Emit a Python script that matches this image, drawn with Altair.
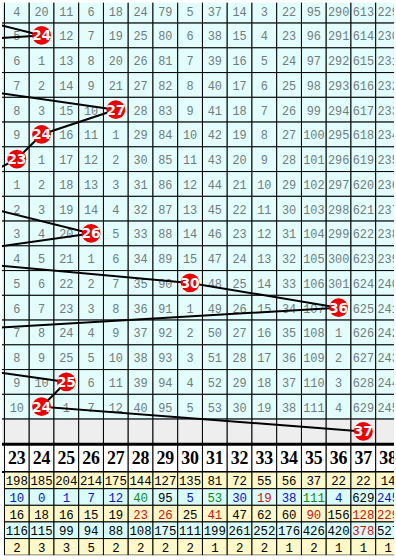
import altair as alt
import pandas as pd

# ---------------- data ----------------
columns = list(range(23, 39))
# column of the drawn ball for each row (rows 0..17, last row = next draw)
hit_cols = [20, 24, 8, 20, 27, 24, 23, 21, 22, 26, 19, 30, 36, 19, 18, 25, 24, 37]

omission = [
    [4, 20, 11, 6, 18, 24, 79, 5, 37, 14, 3, 22, 95, 290, 613, 229],
    [5, None, 12, 7, 19, 25, 80, 6, 38, 15, 4, 23, 96, 291, 614, 230],
    [6, 1, 13, 8, 20, 26, 81, 7, 39, 16, 5, 24, 97, 292, 615, 231],
    [7, 2, 14, 9, 21, 27, 82, 8, 40, 17, 6, 25, 98, 293, 616, 232],
    [8, 3, 15, 10, None, 28, 83, 9, 41, 18, 7, 26, 99, 294, 617, 233],
    [9, None, 16, 11, 1, 29, 84, 10, 42, 19, 8, 27, 100, 295, 618, 234],
    [None, 1, 17, 12, 2, 30, 85, 11, 43, 20, 9, 28, 101, 296, 619, 235],
    [1, 2, 18, 13, 3, 31, 86, 12, 44, 21, 10, 29, 102, 297, 620, 236],
    [2, 3, 19, 14, 4, 32, 87, 13, 45, 22, 11, 30, 103, 298, 621, 237],
    [3, 4, 20, None, 5, 33, 88, 14, 46, 23, 12, 31, 104, 299, 622, 238],
    [4, 5, 21, 1, 6, 34, 89, 15, 47, 24, 13, 32, 105, 300, 623, 239],
    [5, 6, 22, 2, 7, 35, 90, None, 48, 25, 14, 33, 106, 301, 624, 240],
    [6, 7, 23, 3, 8, 36, 91, 1, 49, 26, 15, 34, 107, None, 625, 241],
    [7, 8, 24, 4, 9, 37, 92, 2, 50, 27, 16, 35, 108, 1, 626, 242],
    [8, 9, 25, 5, 10, 38, 93, 3, 51, 28, 17, 36, 109, 2, 627, 243],
    [9, 10, None, 6, 11, 39, 94, 4, 52, 29, 18, 37, 110, 3, 628, 244],
    [10, None, 1, 7, 12, 40, 95, 5, 53, 30, 19, 38, 111, 4, 629, 245],
]

appear_count = [198, 185, 204, 214, 175, 144, 127, 135, 81, 72, 55, 56, 37, 22, 22, 14]
current_miss = [10, 0, 1, 7, 12, 40, 95, 5, 53, 30, 19, 38, 111, 4, 629, 245]
current_tone = ["b", "b", "b", "b", "b", "g", "k", "b", "g", "b", "r", "b", "g", "b", "k", "b"]
avg_miss = [16, 18, 16, 15, 19, 23, 26, 25, 41, 47, 62, 60, 90, 156, 128, 229]
avg_tone = ["k", "k", "k", "k", "k", "r", "r", "k", "r", "k", "k", "k", "r", "k", "r", "r"]
max_miss = [116, 115, 99, 94, 88, 108, 175, 111, 199, 261, 252, 176, 426, 420, 378, 527]
max_tone = ["k", "k", "k", "k", "k", "k", "k", "k", "k", "k", "k", "k", "k", "k", "r", "k"]
max_run = [2, 3, 3, 5, 2, 2, 2, 2, 1, 2, 2, 1, 2, 1, 1, 1]
run_tone = ["k"] * 16

# ---------------- tables ----------------
n_rows = len(hit_cols)
cells = []
for r in range(n_rows):
    for c in range(columns[0] - 1, columns[-1] + 1):
        cells.append({"x0": c - 0.5, "x1": c + 0.5, "y0": r - 0.5, "y1": r + 0.5,
                      "kind": "grid" if r < len(omission) else "blank"})
cells_df = pd.DataFrame(cells)

nums = []
for r, row in enumerate(omission):
    for c, v in zip(columns, row):
        if v is not None:
            nums.append({"row": r, "col": c, "val": str(v)})
nums_df = pd.DataFrame(nums)

hits_df = pd.DataFrame({"row": list(range(n_rows)), "col": hit_cols,
                        "label": [str(c) for c in hit_cols]})

X_DOMAIN = [22.4, 38.24]
xs = alt.Scale(domain=X_DOMAIN, nice=False, zero=False)
ys_top = alt.Scale(domain=[-0.32, 17.52], reverse=True, nice=False, zero=False)

W = 396

base_x = alt.X("col:Q", scale=xs, axis=None)
base_y = alt.Y("row:Q", scale=ys_top, axis=None)

cells_layer = alt.Chart(cells_df).mark_rect(stroke="black", strokeWidth=1, clip=True).encode(
    x=alt.X("x0:Q", scale=xs, axis=None), x2="x1",
    y=alt.Y("y0:Q", scale=ys_top, axis=None), y2="y1",
    fill=alt.Fill("kind:N", scale=alt.Scale(domain=["grid", "blank"],
                                              range=["#e3fdfd", "#eeeeee"]), legend=None),
)
nums_layer = alt.Chart(nums_df).mark_text(
    font="Liberation Mono", fontSize=12, color="#6e7c7c", baseline="middle", dy=1, clip=True
).encode(x=base_x, y=base_y, text="val:N")
line_layer = alt.Chart(hits_df).mark_line(color="black", strokeWidth=2, clip=True).encode(
    x=base_x, y=base_y, order="row:Q")
ball_layer = alt.Chart(hits_df).mark_circle(size=360, color="#ee0000", opacity=1, clip=True).encode(
    x=base_x, y=base_y)
ball_text = alt.Chart(hits_df).mark_text(
    font="DejaVu Sans", fontWeight="bold", fontSize=14, color="white", baseline="middle", dy=1, clip=True
).encode(x=base_x, y=base_y, text="label:N")

top = alt.layer(cells_layer, nums_layer, line_layer, ball_layer, ball_text).properties(width=W, height=446)

# header row
ys_h = alt.Scale(domain=[0, 1], nice=False, zero=False)
head_df = pd.DataFrame({"col": columns, "x0": [c - 0.5 for c in columns], "x1": [c + 0.5 for c in columns],
                        "y0": [0] * len(columns), "y1": [1] * len(columns), "ym": [0.5] * len(columns),
                        "label": [str(c) for c in columns]})
head_rect = alt.Chart(head_df).mark_rect(fill="white", stroke="black", strokeWidth=1, clip=True).encode(
    x=alt.X("x0:Q", scale=xs, axis=None), x2="x1",
    y=alt.Y("y0:Q", scale=ys_h, axis=None), y2="y1")
head_text = alt.Chart(head_df).mark_text(
    font="Liberation Serif", fontWeight="bold", fontSize=18, color="black", baseline="middle", dy=1, clip=True
).encode(x=base_x, y=alt.Y("ym:Q", scale=ys_h, axis=None), text="label:N")
rule_df = pd.DataFrame({"y": [1, 0], "w": [3, 2]})
head_rules = alt.Chart(rule_df).mark_rule(color="black").encode(
    y=alt.Y("y:Q", scale=ys_h, axis=None), strokeWidth=alt.StrokeWidth("w:Q", scale=None))
header = alt.layer(head_rect, head_text, head_rules).properties(width=W, height=28)

# statistics rows
stat_sets = [(appear_count, ["k"] * 16), (current_miss, current_tone), (avg_miss, avg_tone),
             (max_miss, max_tone), (max_run, run_tone)]
stats = []
for i, (vals, tones) in enumerate(stat_sets):
    for c, v, t in zip(columns, vals, tones):
        stats.append({"row": i, "col": c, "x0": c - 0.5, "x1": c + 0.5, "y0": i - 0.5, "y1": i + 0.5,
                      "val": str(v), "tone": t, "band": "y" if i % 2 == 0 else "c"})
stats_df = pd.DataFrame(stats)
ys_s = alt.Scale(domain=[-0.5, 4.5], reverse=True, nice=False, zero=False)
stat_rect = alt.Chart(stats_df).mark_rect(stroke="black", strokeWidth=1, clip=True).encode(
    x=alt.X("x0:Q", scale=xs, axis=None), x2="x1",
    y=alt.Y("y0:Q", scale=ys_s, axis=None), y2="y1",
    fill=alt.Fill("band:N", scale=alt.Scale(domain=["y", "c"], range=["#fff8c8", "#d9fcfc"]), legend=None))
stat_text = alt.Chart(stats_df).mark_text(
    font="Liberation Mono", fontSize=12.5, baseline="middle", dy=1, clip=True
).encode(
    x=base_x, y=alt.Y("row:Q", scale=ys_s, axis=None), text="val:N",
    color=alt.Color("tone:N", scale=alt.Scale(domain=["k", "b", "g", "r"],
                                                range=["#000000", "#1010c8", "#128a12", "#d01010"]), legend=None))
stats_chart = alt.layer(stat_rect, stat_text).properties(width=W, height=84)

chart = alt.vconcat(top, header, stats_chart, spacing=0, bounds="flush").properties(
    padding=0, background="white"
).configure_view(stroke=None).resolve_scale(fill="independent", color="independent", strokeWidth="independent")

chart.save("out.html", embed_options={"renderer": "svg", "actions": False})
